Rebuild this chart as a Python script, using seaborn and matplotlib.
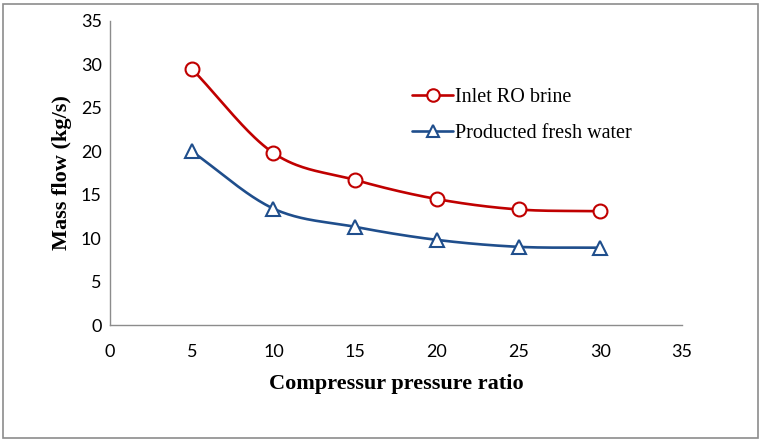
import numpy as np
import pandas as pd
import matplotlib
matplotlib.use("Agg")
import matplotlib.pyplot as plt
import seaborn as sns
from matplotlib.lines import Line2D
from matplotlib.patches import Rectangle

# data
pressure_ratio = [5, 10, 15, 20, 25, 30]
inlet_ro_brine = [29.5, 19.8, 16.7, 14.5, 13.3, 13.1]
fresh_water = [20.0, 13.4, 11.3, 9.8, 9.0, 8.9]

x_ticks = [0, 5, 10, 15, 20, 25, 30, 35]
y_ticks = [0, 5, 10, 15, 20, 25, 30, 35]

red = "#C00000"
blue = "#1F4E8C"


def smooth(xs, ys, n=40):
    # Excel-like smoothed line (Catmull-Rom through the points)
    x = np.asarray(xs, float)
    y = np.asarray(ys, float)
    px = np.concatenate([[2 * x[0] - x[1]], x, [2 * x[-1] - x[-2]]])
    py = np.concatenate([[2 * y[0] - y[1]], y, [2 * y[-1] - y[-2]]])
    out_x, out_y = [], []
    t = np.linspace(0, 1, n)
    for i in range(1, len(px) - 2):
        for arr, out in ((px, out_x), (py, out_y)):
            p0, p1, p2, p3 = arr[i - 1], arr[i], arr[i + 1], arr[i + 2]
            seg = 0.5 * ((2 * p1) + (-p0 + p2) * t
                         + (2 * p0 - 5 * p1 + 4 * p2 - p3) * t ** 2
                         + (-p0 + 3 * p1 - 3 * p2 + p3) * t ** 3)
            out.extend(seg)
    return np.array(out_x), np.array(out_y)


sns.set_theme(style="white")
plt.rcParams["font.family"] = ["Lato", "DejaVu Sans"]
plt.rcParams["text.color"] = "black"
plt.rcParams["axes.labelcolor"] = "black"

fig = plt.figure(figsize=(7.62, 4.42), dpi=100)
ax = fig.add_axes([0.1444, 0.2647, 0.7506, 0.6878])

df = pd.DataFrame({"x": pressure_ratio, "brine": inlet_ro_brine, "fresh": fresh_water})

for col, color, marker in (("brine", red, "o"), ("fresh", blue, "^")):
    sx, sy = smooth(df["x"], df[col])
    sns.lineplot(x=sx, y=sy, ax=ax, color=color, linewidth=1.9, sort=False)
    ax.plot(df["x"], df[col], linestyle="none", marker=marker, markersize=10,
            markerfacecolor="white", markeredgecolor=color, markeredgewidth=1.5)

ax.set_xlim(0, 35)
ax.set_ylim(0, 35)
ax.set_xticks(x_ticks)
ax.set_yticks(y_ticks)
ax.tick_params(axis="both", length=0, labelsize=13, colors="black")
ax.tick_params(axis="y", pad=6)
ax.tick_params(axis="x", pad=14)

for side in ("top", "right"):
    ax.spines[side].set_visible(False)
for side in ("left", "bottom"):
    ax.spines[side].set_color("#8C8C8C")
    ax.spines[side].set_linewidth(1.0)

ax.set_xlabel("Compressur pressure ratio", family=["Liberation Serif"],
              fontweight="bold", fontsize=16, labelpad=10, color="black")
ax.set_ylabel("Mass flow (kg/s)", family=["Liberation Serif"],
              fontweight="bold", fontsize=16, labelpad=6, color="black")

handles = [
    Line2D([], [], color=red, linewidth=1.9, marker="o", markersize=9,
           markerfacecolor="white", markeredgecolor=red, markeredgewidth=1.5),
    Line2D([], [], color=blue, linewidth=1.9, marker="^", markersize=9,
           markerfacecolor="white", markeredgecolor=blue, markeredgewidth=1.5),
]
leg = ax.legend(handles, ["Inlet RO brine", "Producted fresh water"],
                loc="upper left", bbox_to_anchor=(0.497, 0.84), frameon=False,
                prop={"family": "Liberation Serif", "size": 14.5},
                handlelength=2.0, handletextpad=0.1, labelspacing=0.85)
for txt in leg.get_texts():
    txt.set_color("black")

fig.patches.append(Rectangle((0.004, 0.01), 0.991, 0.982, transform=fig.transFigure,
                             fill=False, edgecolor="#8C8C8C", linewidth=1.2))

fig.savefig("out.png", dpi=100)
